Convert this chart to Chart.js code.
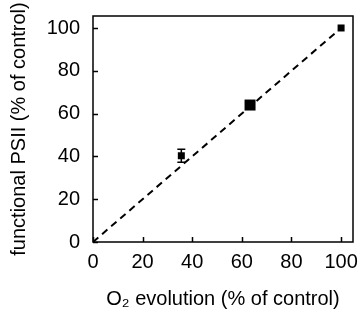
<!DOCTYPE html>
<html>
<head>
<meta charset="utf-8">
<script src="https://cdn.jsdelivr.net/npm/chart.js@4"></script>
<style>
  html, body { margin: 0; padding: 0; background: #fff; }
  #wrap { width: 363px; height: 312px; }
</style>
</head>
<body>
<div id="wrap"><canvas id="chart" width="363" height="312"></canvas></div>
<script>
  // data
  var o2Evolution = [100, 63.3, 35.6];
  var functionalPSII = [100, 64, 40.3];
  var psiiError = [0, 0, 3];
  var markerSide = [7, 11, 7];
  var lineX = [0, 100];
  var lineY = [0, 100];
  var xTicks = [0, 20, 40, 60, 80, 100];
  var yTicks = [0, 20, 40, 60, 80, 100];

  var FONT = '"Liberation Sans", Arial, sans-serif';

  var points = o2Evolution.map(function (x, i) { return { x: x, y: functionalPSII[i] }; });
  var diag = lineX.map(function (x, i) { return { x: x, y: lineY[i] }; });

  // frame + inward ticks + error bars
  var framePlugin = {
    id: 'frame',
    afterDatasetsDraw: function (chart) {
      var ctx = chart.ctx, a = chart.chartArea;
      var xs = chart.scales.x, ys = chart.scales.y;
      ctx.save();
      ctx.strokeStyle = '#000';
      ctx.lineWidth = 1.5;
      ctx.strokeRect(a.left, a.top, a.right - a.left, a.bottom - a.top);
      ctx.beginPath();
      xTicks.forEach(function (v) {
        var px = Math.round(xs.getPixelForValue(v)) + 0.5;
        ctx.moveTo(px, a.bottom);
        ctx.lineTo(px, a.bottom - 5);
      });
      yTicks.forEach(function (v) {
        var py = Math.round(ys.getPixelForValue(v)) + 0.5;
        ctx.moveTo(a.left, py);
        ctx.lineTo(a.left + 5, py);
      });
      ctx.stroke();
      ctx.lineWidth = 1.5;
      o2Evolution.forEach(function (x, i) {
        if (!psiiError[i]) return;
        var px = xs.getPixelForValue(x);
        var top = ys.getPixelForValue(functionalPSII[i] + psiiError[i]);
        var bot = ys.getPixelForValue(functionalPSII[i] - psiiError[i]);
        ctx.beginPath();
        ctx.moveTo(px, top); ctx.lineTo(px, bot);
        ctx.moveTo(px - 4, top); ctx.lineTo(px + 4, top);
        ctx.moveTo(px - 4, bot); ctx.lineTo(px + 4, bot);
        ctx.stroke();
      });
      ctx.restore();
    }
  };

  new Chart(document.getElementById('chart'), {
    type: 'scatter',
    data: {
      datasets: [{
        type: 'line',
        data: diag,
        borderColor: '#000',
        borderWidth: 2,
        borderDash: [7, 5],
        pointRadius: 0,
        fill: false
      }, {
        data: points,
        pointStyle: 'rect',
        pointRadius: markerSide.map(function (s) { return s / Math.SQRT2; }),
        backgroundColor: '#000',
        borderColor: '#000',
        borderWidth: 0
      }]
    },
    options: {
      responsive: false,
      animation: false,
      events: [],
      layout: { padding: { top: 16, right: 10, left: 0, bottom: 0 } },
      plugins: { legend: { display: false }, tooltip: { enabled: false } },
      scales: {
        x: {
          type: 'linear',
          min: 0, max: 104.8,
          afterBuildTicks: function (s) { s.ticks = xTicks.map(function (v) { return { value: v }; }); },
          afterFit: function (s) { s.height = 70; s.paddingLeft = 0; s.paddingRight = 0; },
          grid: { display: false, drawTicks: false },
          border: { display: false },
          ticks: { color: '#000', padding: 8, maxRotation: 0, font: { family: FONT, size: 20 } },
          title: {
            display: true,
            text: 'O\u2082 evolution (% of control)',
            color: '#000',
            padding: { top: 0, bottom: 1 },
            font: { family: FONT, size: 20 }
          }
        },
        y: {
          type: 'linear',
          min: 0, max: 105.6,
          afterBuildTicks: function (s) { s.ticks = yTicks.map(function (v) { return { value: v }; }); },
          afterFit: function (s) { s.width = 93; s.paddingTop = 0; s.paddingBottom = 0; },
          grid: { display: false, drawTicks: false },
          border: { display: false },
          ticks: { color: '#000', padding: 13, font: { family: FONT, size: 20 } },
          title: {
            display: true,
            text: 'functional PSII (% of control)',
            color: '#000',
            padding: { top: 7, bottom: 0 },
            font: { family: FONT, size: 20 }
          }
        }
      }
    },
    plugins: [framePlugin]
  });
</script>
</body>
</html>
